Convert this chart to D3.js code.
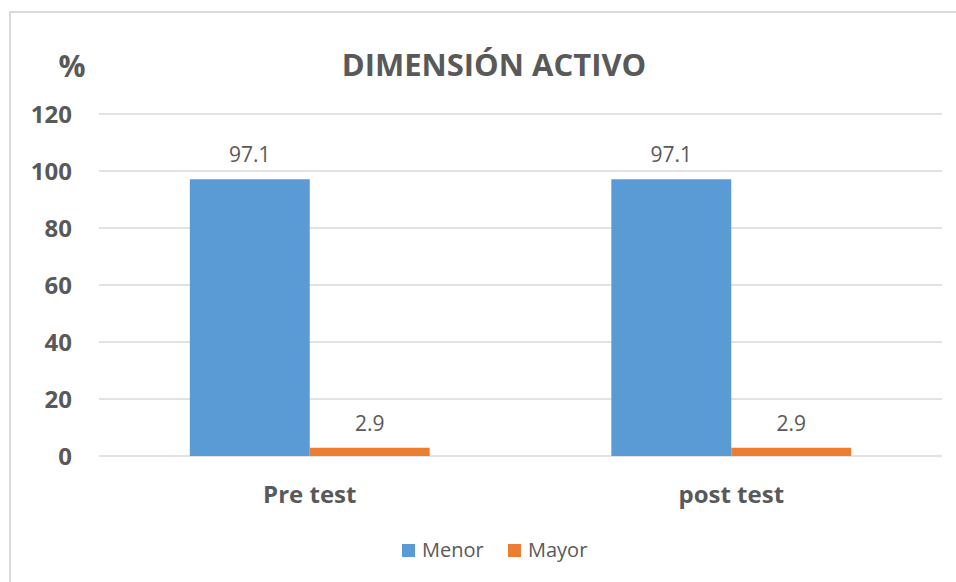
<!DOCTYPE html>
<html>
<head>
<meta charset="utf-8">
<script src="https://cdn.jsdelivr.net/npm/d3@7"></script>
<style>
  html, body { margin: 0; padding: 0; background: #fff; }
  svg { display: block; }
  text { font-family: "Open Sans", "Noto Sans", sans-serif; fill: #595959; }
</style>
</head>
<body>
<svg id="chart" width="956" height="582"></svg>
<script>
const categories = ["Pre test", "post test"];
const seriesNames = ["Menor", "Mayor"];
const menor = [97.1, 97.1];
const mayor = [2.9, 2.9];
const yTicks = [0, 20, 40, 60, 80, 100, 120];
const colors = ["#5B9BD5", "#ED7D31"];
const titleText = "DIMENSIÓN ACTIVO";
const yUnit = "%";

(function () {
const data = categories.map((c, i) => ({ cat: c, values: [menor[i], mayor[i]] }));

const svg = d3.select("#chart");

// chart border
svg.append("rect")
  .attr("x", 10).attr("y", 12)
  .attr("width", 1000).attr("height", 700)
  .attr("fill", "none").attr("stroke", "#D9D9D9").attr("stroke-width", 2);

const pLeft = 99, pRight = 942, pTop = 114, pBottom = 456;

const y = d3.scaleLinear().domain([0, 120]).range([pBottom, pTop]);
const x0 = d3.scaleBand().domain(categories).range([pLeft, pRight])
  .paddingInner(0.431).paddingOuter(0.2155);
const x1 = d3.scaleBand().domain(seriesNames).range([0, x0.bandwidth()]);

// gridlines
svg.append("g").selectAll("line").data(yTicks).join("line")
  .attr("x1", pLeft).attr("x2", pRight)
  .attr("y1", d => y(d)).attr("y2", d => y(d))
  .attr("stroke", "#D9D9D9").attr("stroke-width", 1.3);

// y axis labels
const yAxis = d3.axisLeft(y).tickValues(yTicks).tickSize(0).tickPadding(0);
const gy = svg.append("g").attr("transform", `translate(72,0)`).call(yAxis);
gy.select(".domain").remove();
gy.selectAll("text")
  .style("font-family", '"Open Sans", sans-serif')
  .style("font-size", "24px").style("font-weight", "bold")
  .attr("fill", "#595959").attr("dy", "0.36em");

// bars
const groups = svg.append("g").selectAll("g").data(data).join("g")
  .attr("transform", d => `translate(${x0(d.cat)},0)`);

groups.selectAll("rect").data(d => d.values.map((v, j) => ({ s: seriesNames[j], v, j })))
  .join("rect")
  .attr("x", d => x1(d.s))
  .attr("width", x1.bandwidth())
  .attr("y", d => y(d.v))
  .attr("height", d => y(0) - y(d.v))
  .attr("fill", d => colors[d.j]);

groups.selectAll("text.lbl").data(d => d.values.map((v, j) => ({ s: seriesNames[j], v, j })))
  .join("text").attr("class", "lbl")
  .attr("x", d => x1(d.s) + x1.bandwidth() / 2)
  .attr("y", d => y(d.v) - 17)
  .attr("text-anchor", "middle")
  .style("font-size", "21px")
  .text(d => d3.format(".1f")(d.v));

// x axis labels
const xAxis = d3.axisBottom(x0).tickSize(0).tickPadding(0);
const gx = svg.append("g").attr("transform", `translate(0,503)`).call(xAxis);
gx.select(".domain").remove();
gx.selectAll("text")
  .style("font-family", '"Open Sans", sans-serif')
  .style("font-size", "24px").style("font-weight", "bold")
  .attr("fill", "#595959").attr("dy", "0");

// title
svg.append("text")
  .attr("x", 494).attr("y", 76)
  .attr("text-anchor", "middle")
  .style("font-size", "31px").style("font-weight", "bold")
  .text(titleText);

// y unit
svg.append("text")
  .attr("x", 72).attr("y", 77)
  .attr("text-anchor", "middle")
  .style("font-size", "30px").style("font-weight", "bold")
  .text(yUnit);

// legend
const legendX = [402, 508];
const lg = svg.append("g").selectAll("g").data(seriesNames).join("g")
  .attr("transform", (d, i) => `translate(${legendX[i]},544)`);
lg.append("rect").attr("width", 13).attr("height", 13).attr("fill", (d, i) => colors[i]);
lg.append("text").attr("x", 20).attr("y", 13)
  .style("font-size", "20px")
  .text(d => d);
})();
</script>
</body>
</html>
